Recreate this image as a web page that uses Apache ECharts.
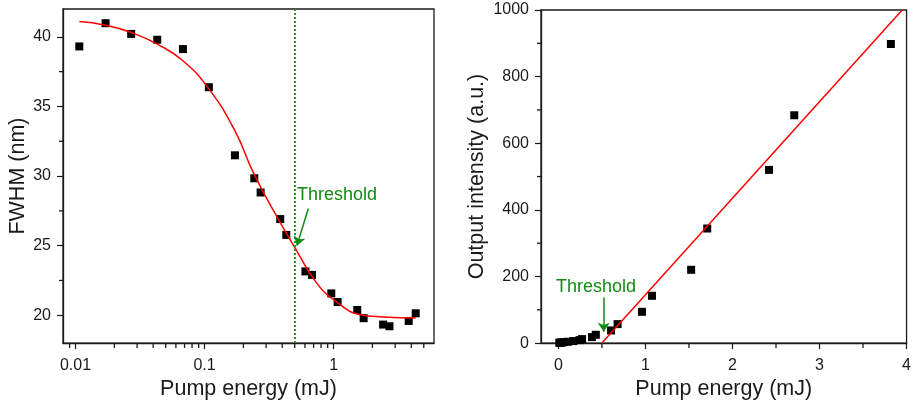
<!DOCTYPE html>
<html>
<head>
<meta charset="utf-8">
<script src="https://cdn.jsdelivr.net/npm/echarts@6/dist/echarts.min.js"></script>
<style>
  html, body { margin: 0; padding: 0; background: #fff; }
  #chart { width: 914px; height: 405px; }
</style>
</head>
<body>
<div id="chart"></div>
<script>
// pump energy (mJ), shared by both panels
var energy = [0.0107, 0.0171, 0.027, 0.043, 0.068, 0.108, 0.172, 0.243, 0.272, 0.386, 0.43,
              0.605, 0.68, 0.96, 1.075, 1.525, 1.71, 2.42, 2.71, 3.82, 4.33];
var fwhm = [39.31, 40.98, 40.21, 39.79, 39.12, 36.38, 31.49, 29.84, 28.82, 26.91, 25.77,
            23.15, 22.90, 21.57, 20.95, 20.38, 19.79, 19.33, 19.21, 19.59, 20.14];
var intensity = [1, 1, 1.5, 2, 3, 4, 6, 9, 12, 18, 25, 38, 57, 94, 142, 220, 344, 520, 684, 898];

// fitted curves
var fitE = [0.0107, 0.017, 0.027, 0.043, 0.068, 0.108, 0.172, 0.243, 0.386, 0.51, 0.74, 1.06, 1.61, 2.44, 4.33];
var fitW = [41.1, 40.84, 40.31, 39.48, 38.28, 36.26, 33.24, 30.1, 26.66, 24.74, 22.31, 20.95, 20.04, 19.88, 19.81];
var lineE = [0.5, 3.95];
var lineI = [0, 1000];

var threshold = 0.5;

// tick values
var logMajor = [0.01, 0.1, 1];
var logMinor = [0.009, 0.02, 0.03, 0.04, 0.05, 0.06, 0.07, 0.08, 0.09,
                0.2, 0.3, 0.4, 0.5, 0.6, 0.7, 0.8, 0.9, 2, 3, 4, 5];
var fwhmMajor = [20, 25, 30, 35, 40];
var fwhmMinor = [22.5, 27.5, 32.5, 37.5];
var linMajor = [0, 1, 2, 3, 4];
var linMinor = [0.5, 1.5, 2.5, 3.5];
var intMajor = [0, 200, 400, 600, 800, 1000];
var intMinor = [100, 300, 500, 700, 900];

var ink = '#1a1a1a';
var green = '#138a13';
var font = 'Liberation Sans, Arial, sans-serif';

function pairs(xs, ys) {
    var out = [];
    for (var i = 0; i < ys.length; i++) out.push([xs[i], ys[i]]);
    return out;
}

function mainAxis(ticks, extra) {
    return Object.assign({
        splitLine: { show: false },
        axisLine: { show: true, onZero: false, lineStyle: { color: ink, width: 1.3 } },
        axisTick: { show: true, length: 6, lineStyle: { color: ink, width: 1.2 }, customValues: ticks },
        axisLabel: { color: ink, fontSize: 16, fontFamily: font, customValues: ticks,
            formatter: function (v) { return String(v); } },
        nameLocation: 'middle',
        nameTextStyle: { color: ink, fontSize: 21.5, fontFamily: font }
    }, extra);
}

// short minor ticks, placed through the axes' own scales
function minorTicks(xi, yi, points, horizontal) {
    return {
        type: 'scatter',
        xAxisIndex: xi, yAxisIndex: yi,
        silent: true, clip: false, z: 5,
        symbol: 'rect',
        symbolSize: horizontal ? [4, 1.3] : [1.3, 4.5],
        symbolOffset: horizontal ? [-2, 0] : [0, 2.6],
        itemStyle: { color: ink, opacity: 1 },
        data: points
    };
}

var chart = echarts.init(document.getElementById('chart'));

var option = {
    animation: false,
    grid: [
        { left: 63, top: 9, width: 371, height: 336, show: true, borderColor: ink, borderWidth: 1.3 },
        { left: 541, top: 10, width: 370, height: 335, show: true, borderColor: ink, borderWidth: 1.3 }
    ],
    xAxis: [
        mainAxis(logMajor, { gridIndex: 0, type: 'log', logBase: 10, min: 0.008, max: 6,
            name: 'Pump energy (mJ)', nameGap: 33 }),
        mainAxis(linMajor, { gridIndex: 1, type: 'value', min: -0.2, max: 4,
            name: 'Pump energy (mJ)', nameGap: 33 })
    ],
    yAxis: [
        mainAxis(fwhmMajor, { gridIndex: 0, type: 'value', min: 18, max: 42,
            name: 'FWHM (nm)', nameGap: 34 }),
        mainAxis(intMajor, { gridIndex: 1, type: 'value', min: 0, max: 1000,
            name: 'Output intensity (a.u.)', nameGap: 53 })
    ],
    series: [
        {
            type: 'scatter',
            xAxisIndex: 0, yAxisIndex: 0,
            symbol: 'rect', symbolSize: 8,
            itemStyle: { color: '#000', opacity: 1 },
            data: pairs(energy, fwhm),
            markLine: {
                silent: true, symbol: 'none', animation: false,
                label: { show: false },
                lineStyle: { color: '#1aa01a', type: [2, 2], width: 2 },
                data: [{ xAxis: threshold }]
            }
        },
        {
            type: 'line',
            xAxisIndex: 0, yAxisIndex: 0,
            smooth: true, showSymbol: false,
            lineStyle: { color: '#ff0000', width: 1.5 },
            data: pairs(fitE, fitW),
            markLine: {
                silent: true, symbol: ['none', 'arrow'], symbolSize: 9, animation: false,
                label: { show: false },
                lineStyle: { color: green, type: 'solid', width: 1.5 },
                data: [[{ coord: [0.637, 27.67] }, { coord: [0.52, 25.0] }]]
            }
        },
        {
            type: 'scatter',
            xAxisIndex: 1, yAxisIndex: 1,
            symbol: 'rect', symbolSize: 8,
            itemStyle: { color: '#000', opacity: 1 },
            data: pairs(energy, intensity)
        },
        {
            type: 'line',
            xAxisIndex: 1, yAxisIndex: 1,
            showSymbol: false,
            lineStyle: { color: '#ff0000', width: 1.5 },
            data: pairs(lineE, lineI),
            markLine: {
                silent: true, symbol: ['none', 'arrow'], symbolSize: 9, animation: false,
                label: { show: false },
                lineStyle: { color: green, type: 'solid', width: 1.5 },
                data: [[{ coord: [0.52, 137] }, { coord: [0.52, 34] }]]
            }
        },
        minorTicks(0, 0, logMinor.map(function (v) { return [v, 18]; }), false),
        minorTicks(0, 0, fwhmMinor.map(function (v) { return [0.008, v]; }), true),
        minorTicks(1, 1, linMinor.map(function (v) { return [v, 0]; }), false),
        minorTicks(1, 1, intMinor.map(function (v) { return [-0.2, v]; }), true)
    ],
    graphic: [
        { type: 'text', left: 297, top: 186, style: { text: 'Threshold', fill: green, fontSize: 18, fontFamily: font } },
        { type: 'text', left: 556, top: 278, style: { text: 'Threshold', fill: green, fontSize: 18, fontFamily: font } }
    ]
};

// label distance from the axis lines
option.xAxis.forEach(function (a) { a.axisLabel.margin = 14; });
option.yAxis.forEach(function (a) { a.axisLabel.margin = 12; });

chart.setOption(option);
</script>
</body>
</html>
